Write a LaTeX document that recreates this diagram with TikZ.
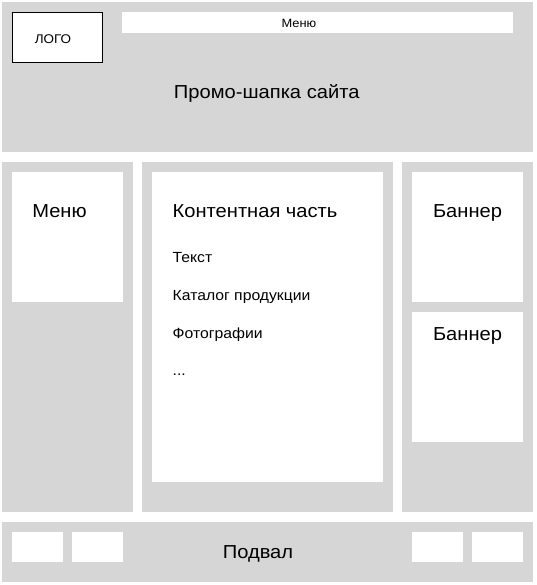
\documentclass[tikz,border=0pt]{standalone}
\usepackage{fontspec}
\setmainfont[FakeStretch=1.07]{Liberation Sans}
\definecolor{panel}{HTML}{D6D6D6}
\tikzset{
  panelbox/.style={fill=panel},
  whitebox/.style={fill=white},
  lbl/.style={inner sep=0pt, anchor=base, text=black},
  lblw/.style={inner sep=0pt, anchor=base west, text=black},
  big/.style={font=\fontsize{18.8}{21}\selectfont},
  item/.style={font=\fontsize{14.7}{17}\selectfont},
  small/.style={font=\fontsize{12}{14}\selectfont},
  logofont/.style={font=\fontsize{12.6}{14}\selectfont},
}
\begin{document}
\begin{tikzpicture}[x=1pt,y=-1pt]
\useasboundingbox[fill=white] (0,0) rectangle (536,585);
% header
\path[panelbox] (2,2) rectangle (533,152);
\path[whitebox,draw=black,line width=1pt] (12.5,12.5) rectangle (102.5,62.5);
\path[whitebox] (122,12) rectangle (513,33);
\node[lbl,logofont] (logo) at (53,43.4) {ЛОГО};
\node[lbl,small] (topmenu) at (299,28) {Меню};
\node[lbl,big] (promo) at (266.7,98.3) {Промо-шапка сайта};
% left column
\path[panelbox] (2,162) rectangle (133,512);
\path[whitebox] (12,172) rectangle (123,302);
\node[lbl,big] (leftmenu) at (59.5,217.3) {Меню};
% middle column
\path[panelbox] (142,162) rectangle (393,512);
\path[whitebox] (152,172) rectangle (383,482);
\node[lblw,big] (content) at (172.5,217.3) {Контентная часть};
\node[lblw,item] (t1) at (172.5,262.7) {Текст};
\node[lblw,item] (t2) at (172.5,300.4) {Каталог продукции};
\node[lblw,item] (t3) at (172.5,338) {Фотографии};
\node[lblw,item] (t4) at (172.5,375.5) {...};
% right column
\path[panelbox] (402,162) rectangle (533,512);
\path[whitebox] (412,172) rectangle (523,302);
\path[whitebox] (412,312) rectangle (523,442);
\node[lbl,big] (banner1) at (467.5,217.5) {Баннер};
\node[lbl,big] (banner2) at (467.5,340.2) {Баннер};
% footer
\path[panelbox] (2,522) rectangle (533,582);
\path[whitebox] (12,532) rectangle (63,562);
\path[whitebox] (72,532) rectangle (123,562);
\path[whitebox] (412,532) rectangle (463,562);
\path[whitebox] (472,532) rectangle (523,562);
\node[lbl,big] (footer) at (258,558.3) {Подвал};
\end{tikzpicture}
\end{document}
